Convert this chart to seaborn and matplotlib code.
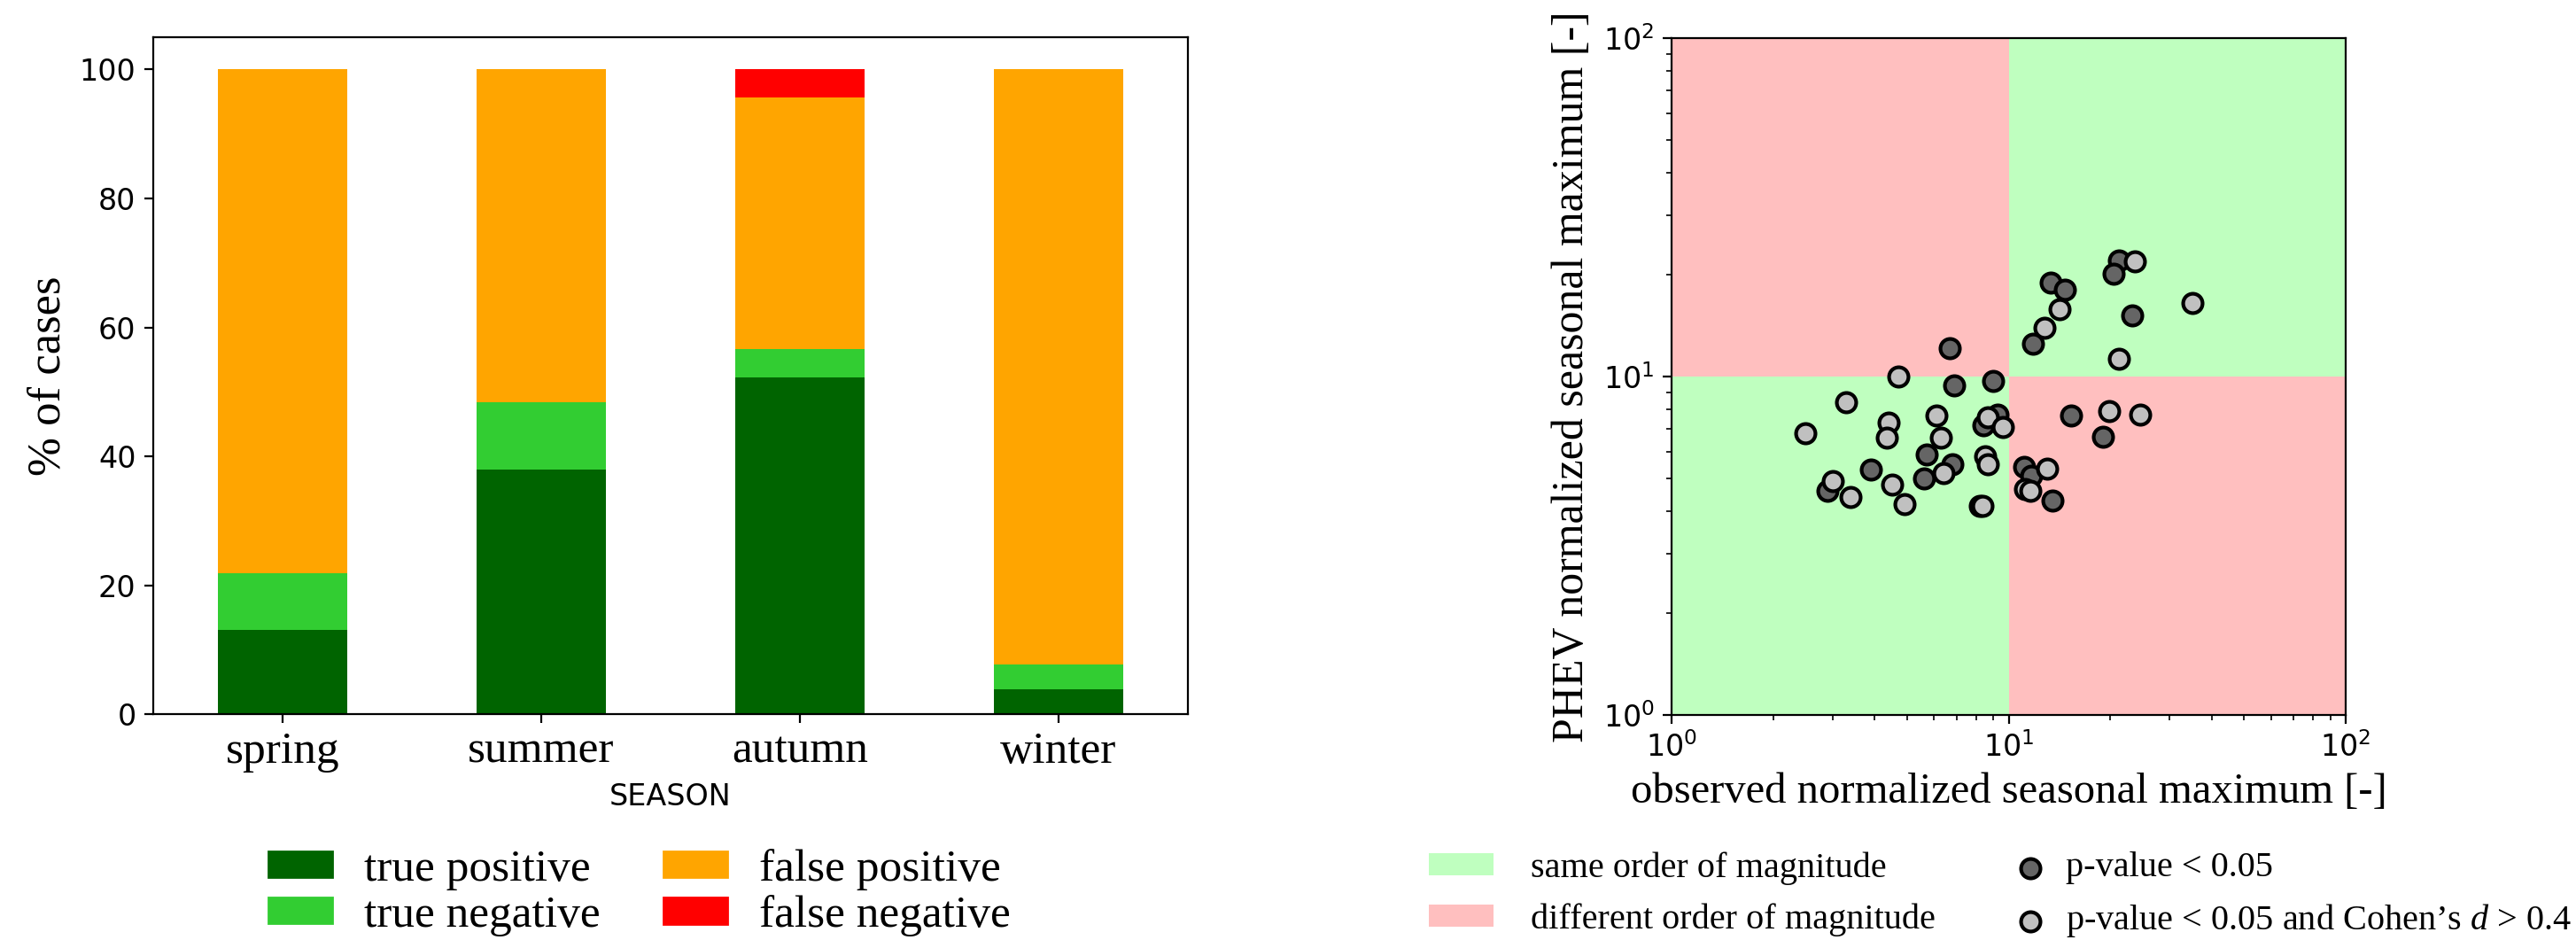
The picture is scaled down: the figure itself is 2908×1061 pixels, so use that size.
import matplotlib
matplotlib.use("Agg")
import matplotlib.pyplot as plt
from matplotlib.patches import Patch
import seaborn as sns

# ---- left panel: share of cases per season (stacked) ----
seasons = ["spring", "summer", "autumn", "winter"]
true_positive = [13.1, 37.9, 52.2, 3.8]
true_negative = [8.7, 10.5, 4.4, 3.9]
false_positive = [78.2, 51.6, 39.1, 92.3]
false_negative = [0.0, 0.0, 4.3, 0.0]

# ---- right panel: observed vs PHEV normalized seasonal maximum ----
obs_sig = [21.3, 20.5, 13.3, 14.7, 23.2, 11.8, 6.7, 9.0, 6.9, 15.3, 9.25,
           8.4, 19.0, 5.7, 6.8, 3.9, 11.1, 11.7, 5.6, 2.9, 13.5, 8.2]
phev_sig = [22.0, 20.1, 18.9, 18.1, 15.2, 12.5, 12.1, 9.7, 9.4, 7.65, 7.7,
            7.2, 6.65, 5.9, 5.5, 5.3, 5.4, 5.1, 5.0, 4.6, 4.3, 4.15]
obs_cohen = [23.7, 35.0, 14.2, 12.8, 21.3, 4.7, 3.3, 19.9, 24.6, 8.65, 6.1,
             4.4, 9.6, 2.5, 4.35, 6.3, 8.5, 8.65, 13.0, 6.4, 3.0, 4.5, 11.2,
             11.6, 3.4, 4.9, 8.35]
phev_cohen = [21.9, 16.5, 15.8, 13.9, 11.3, 10.0, 8.4, 7.9, 7.7, 7.6, 7.65,
              7.3, 7.1, 6.8, 6.6, 6.6, 5.8, 5.5, 5.35, 5.2, 4.9, 4.8, 4.65,
              4.6, 4.4, 4.2, 4.15]

SERIF = "Liberation Serif"
plt.rcParams["mathtext.fontset"] = "custom"
plt.rcParams["mathtext.it"] = "Liberation Serif:italic"

fig = plt.figure(figsize=(14.54, 5.305), dpi=200)
ax1 = fig.add_axes([0.0595, 0.2403, 0.4015, 0.7200])
ax2 = fig.add_axes([0.6489, 0.2394, 0.2617, 0.7200])

# stacked bars drawn as overlapping cumulative totals
layers = [true_positive, true_negative, false_positive, false_negative]
colors = ["darkgreen", "limegreen", "orange", "red"]
cum = []
running = [0.0] * len(seasons)
for vals in layers:
    running = [r + v for r, v in zip(running, vals)]
    cum.append(running)
for tops, col in reversed(list(zip(cum, colors))):
    sns.barplot(x=seasons, y=tops, color=col, width=0.5, saturation=1,
                errorbar=None, ax=ax1)

ax1.set_xlabel("SEASON", fontsize=12)
ax1.set_ylabel("% of cases", fontsize=19, family=SERIF)
ax1.tick_params(axis="y", labelsize=12)
for lab in ax1.get_xticklabels():
    lab.set_fontfamily(SERIF)
    lab.set_fontsize(18.5)

bar_handles = [Patch(color=c) for c in colors]
bar_labels = ["true positive", "true negative", "false positive", "false negative"]
ax1.legend(bar_handles, bar_labels, ncol=2, frameon=False,
           loc="upper left", bbox_to_anchor=(0.1042, 0.097),
           bbox_transform=fig.transFigure, borderpad=0, borderaxespad=0,
           prop={"family": SERIF, "size": 18.5}, handlelength=1.4,
           handleheight=0.5, handletextpad=0.7, labelspacing=0.1,
           columnspacing=1.4)

# quadrant shading
green = "#bfffbf"
pink = "#ffbfbf"
ax2.fill_between([1, 10], 1, 10, color=green, lw=0, label="same order of magnitude")
ax2.fill_between([10, 100], 10, 100, color=green, lw=0)
ax2.fill_between([1, 10], 10, 100, color=pink, lw=0, label="different order of magnitude")
ax2.fill_between([10, 100], 1, 10, color=pink, lw=0)

sns.scatterplot(x=obs_sig, y=phev_sig, color="#656565", edgecolor="black",
                linewidth=1.5, s=62, ax=ax2, label="p-value < 0.05", zorder=3)
sns.scatterplot(x=obs_cohen, y=phev_cohen, color="silver", edgecolor="black",
                linewidth=1.5, s=62, ax=ax2, zorder=4,
                label="p-value < 0.05 and Cohen’s $d$ > 0.4")

ax2.set_xscale("log")
ax2.set_yscale("log")
ax2.set_xlim(1, 100)
ax2.set_ylim(1, 100)
ax2.tick_params(labelsize=12)
ax2.set_xlabel("observed normalized seasonal maximum [-]", fontsize=17.5, family=SERIF)
ax2.set_ylabel("PHEV normalized seasonal maximum [-]", fontsize=18, family=SERIF)

handles, labels = ax2.get_legend_handles_labels()
leg_prop = {"family": SERIF, "size": 14.5}
leg_area = ax2.legend(handles[:2], labels[:2], frameon=False,
                      loc="upper left", bbox_to_anchor=(0.5547, 0.094),
                      bbox_transform=fig.transFigure, borderpad=0,
                      borderaxespad=0, prop=leg_prop, handlelength=1.8,
                      handleheight=0.6, handletextpad=1.05, labelspacing=0.5)
ax2.add_artist(leg_area)
ax2.legend(handles[2:], labels[2:], frameon=False,
           loc="upper left", bbox_to_anchor=(0.7813, 0.094),
           bbox_transform=fig.transFigure, borderpad=0, borderaxespad=0,
           prop=leg_prop, handlelength=1.0, handleheight=0.6,
           handletextpad=0.5, labelspacing=0.5)

fig.savefig("out.png", dpi=200)
plt.close(fig)
